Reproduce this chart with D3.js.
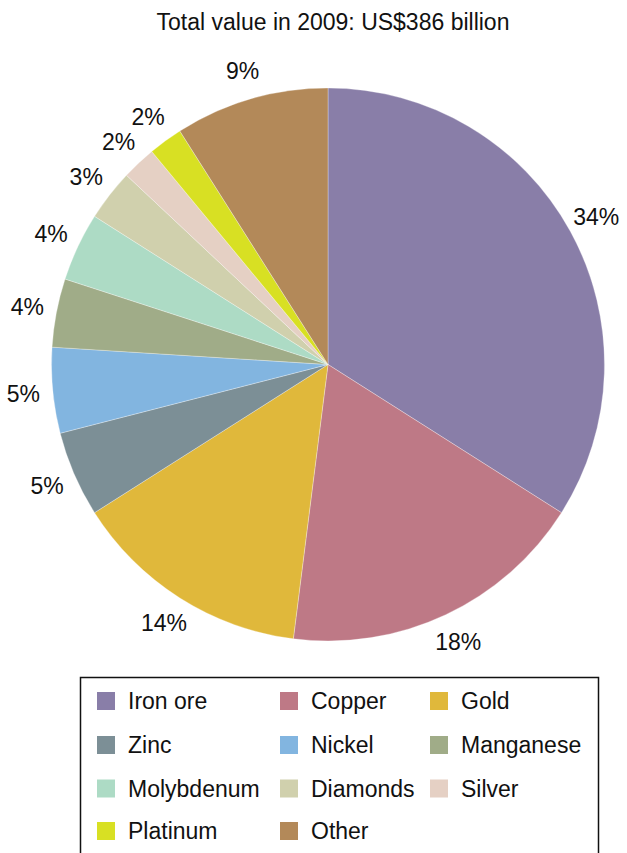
<!DOCTYPE html>
<html>
<head>
<meta charset="utf-8">
<script src="https://cdn.jsdelivr.net/npm/d3@7"></script>
<style>
  html, body { margin: 0; padding: 0; background: #fff; }
  svg { display: block; font-family: "Liberation Sans", Arial, Helvetica, sans-serif; }
</style>
</head>
<body>
<svg id="chart" width="627" height="853"></svg>
<script>
// Share of total mined value, 2009 (percent), clockwise from 12 o'clock
const categories = ["Iron ore", "Copper", "Gold", "Zinc", "Nickel", "Manganese",
                    "Molybdenum", "Diamonds", "Silver", "Platinum", "Other"];
const shares = [34, 18, 14, 5, 5, 4, 4, 3, 2, 2, 9];
const colors = ["#897ea8", "#be7986", "#e0b83b", "#7c8f96", "#82b5e0", "#a0ac88",
                "#addbc5", "#d0d0ad", "#e5d0c4", "#d8e023", "#b38959"];
const title = "Total value in 2009: US$386 billion";

const svg = d3.select("#chart");
const cx = 328, cy = 364.5, radius = 276.5, labelRadius = 306;

svg.append("text")
  .attr("x", 333).attr("y", 29.5)
  .attr("text-anchor", "middle")
  .attr("font-size", 23)
  .attr("fill", "#111")
  .text(title);

const data = categories.map((c, i) => ({ name: c, value: shares[i] }));
const color = d3.scaleOrdinal().domain(categories).range(colors);

const pie = d3.pie().value(d => d.value).sort(null);
const arc = d3.arc().innerRadius(0).outerRadius(radius);
const labelArc = d3.arc().innerRadius(labelRadius).outerRadius(labelRadius);

const g = svg.append("g").attr("transform", `translate(${cx},${cy})`);
const arcs = pie(data);

g.selectAll("path.slice")
  .data(arcs)
  .join("path")
  .attr("class", "slice")
  .attr("d", arc)
  .attr("fill", d => color(d.data.name))
  .attr("stroke", "#ffffff")
  .attr("stroke-opacity", 0.5)
  .attr("stroke-width", 0.6);

g.selectAll("text.pct")
  .data(arcs)
  .join("text")
  .attr("class", "pct")
  .attr("transform", d => `translate(${labelArc.centroid(d)})`)
  .attr("text-anchor", "middle")
  .attr("dy", "0.36em")
  .attr("font-size", 23)
  .attr("fill", "#111")
  .text(d => d.data.value + "%");

// Legend: three columns, boxed
const legend = svg.append("g");
legend.append("rect")
  .attr("x", 80.5).attr("y", 677.5)
  .attr("width", 518).attr("height", 190)
  .attr("fill", "none")
  .attr("stroke", "#111")
  .attr("stroke-width", 1.5);

const colX = [97, 280, 430];
const rowY = [701, 745, 788.5, 831];
const items = legend.selectAll("g.item")
  .data(categories)
  .join("g")
  .attr("class", "item")
  .attr("transform", (d, i) => `translate(${colX[i % 3]},${rowY[Math.floor(i / 3)]})`);

items.append("rect")
  .attr("x", 0).attr("y", -9)
  .attr("width", 18).attr("height", 18)
  .attr("fill", d => color(d));

items.append("text")
  .attr("x", 31).attr("y", 0)
  .attr("dy", "0.36em")
  .attr("font-size", 23)
  .attr("fill", "#111")
  .text(d => d);
</script>
</body>
</html>
